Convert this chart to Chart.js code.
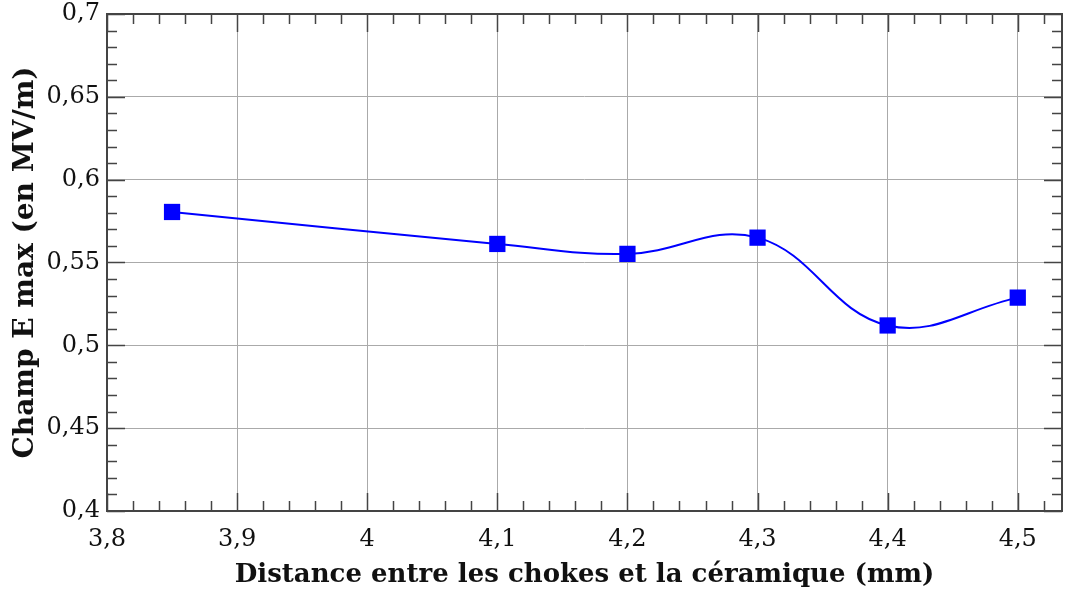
<!DOCTYPE html>
<html><head><meta charset="utf-8">
<script src="https://cdn.jsdelivr.net/npm/chart.js@4/dist/chart.umd.min.js"></script>
<style>html,body{margin:0;padding:0;background:#fff}#w{width:1074px;height:594px}</style>
</head><body><div id="w"><canvas id="c"></canvas></div>
<script>
const distances = [3.85, 4.1, 4.2, 4.3, 4.4, 4.5];
const champE = [0.5805, 0.5612, 0.5552, 0.5650, 0.5120, 0.5288];
const xTicks = [3.8, 3.9, 4.0, 4.1, 4.2, 4.3, 4.4, 4.5];
const yTicks = [0.4, 0.45, 0.5, 0.55, 0.6, 0.65, 0.7];
const xTitle = 'Distance entre les chokes et la céramique (mm)';
const yTitle = 'Champ E max (en MV/m)';

const fmt = v => String(Math.round(v * 1000) / 1000).replace('.', ',');
const FONT = "'DejaVu Serif', serif";

const frame = {
  id: 'frame',
  afterDatasetsDraw(chart) {
    const {ctx, chartArea: a, scales: {x, y}} = chart;
    ctx.save();
    ctx.strokeStyle = '#444';
    ctx.lineWidth = 1.5;
    for (let i = Math.round(x.min / 0.02); i * 0.02 <= x.max + 1e-9; i++) {
      const v = i * 0.02;
      const major = Math.abs(v * 10 - Math.round(v * 10)) < 1e-6;
      const len = major ? 18 : 10;
      const px = Math.round(x.getPixelForValue(v)) + 0.5;
      ctx.beginPath();
      ctx.moveTo(px, a.bottom); ctx.lineTo(px, a.bottom - len);
      ctx.moveTo(px, a.top); ctx.lineTo(px, a.top + len);
      ctx.stroke();
    }
    for (let i = Math.round(y.min / 0.01); i * 0.01 <= y.max + 1e-9; i++) {
      const v = i * 0.01;
      const major = i % 5 === 0;
      const len = major ? 18 : 10;
      const py = Math.round(y.getPixelForValue(v)) + 0.5;
      ctx.beginPath();
      ctx.moveTo(a.left, py); ctx.lineTo(a.left + len, py);
      ctx.moveTo(a.right, py); ctx.lineTo(a.right - len, py);
      ctx.stroke();
    }
    ctx.lineWidth = 2;
    ctx.strokeRect(a.left, a.top, a.right - a.left, a.bottom - a.top);
    ctx.restore();
  }
};

new Chart(document.getElementById('c'), {
  type: 'line',
  data: {
    datasets: [{
      data: distances.map((d, i) => ({x: d, y: champE[i]})),
      borderColor: '#0000ff',
      backgroundColor: '#0000ff',
      borderWidth: 2,
      tension: 0.4,
      pointStyle: 'rect',
      pointRadius: 11.5,
      pointBorderWidth: 0,
      pointBackgroundColor: '#0000ff',
      fill: false
    }]
  },
  options: {
    responsive: true,
    maintainAspectRatio: false,
    animation: false,
    layout: {padding: {top: 14, right: 12, left: 0, bottom: 0}},
    plugins: {legend: {display: false}, tooltip: {enabled: false}},
    scales: {
      x: {
        type: 'linear', min: 3.8, max: 4.534,
        afterBuildTicks: s => { s.ticks = xTicks.map(v => ({value: v})); },
        afterFit: s => { s.height = 594 - 511; s.paddingLeft = 0; s.paddingRight = 0; },
        grid: {color: '#aaaaaa', lineWidth: 1, drawTicks: false},
        border: {display: false},
        ticks: {callback: v => fmt(v), color: '#111', padding: 14, maxRotation: 0,
          font: {family: FONT, size: 24}},
        title: {display: true, text: xTitle, color: '#111', padding: {top: 0, bottom: 3},
          font: {family: FONT, size: 26, weight: 'bold'}}
      },
      y: {
        type: 'linear', min: 0.4, max: 0.7,
        afterBuildTicks: s => { s.ticks = yTicks.map(v => ({value: v})); },
        afterFit: s => { s.width = 107; s.paddingTop = 0; s.paddingBottom = 0; },
        grid: {color: '#aaaaaa', lineWidth: 1, drawTicks: false},
        border: {display: false},
        ticks: {callback: v => fmt(v), color: '#111', padding: 7,
          font: {family: FONT, size: 24}},
        title: {display: true, text: yTitle, color: '#111', padding: {top: 9, bottom: 0},
          font: {family: FONT, size: 28, weight: 'bold'}}
      }
    }
  },
  plugins: [frame]
});
</script></body></html>
